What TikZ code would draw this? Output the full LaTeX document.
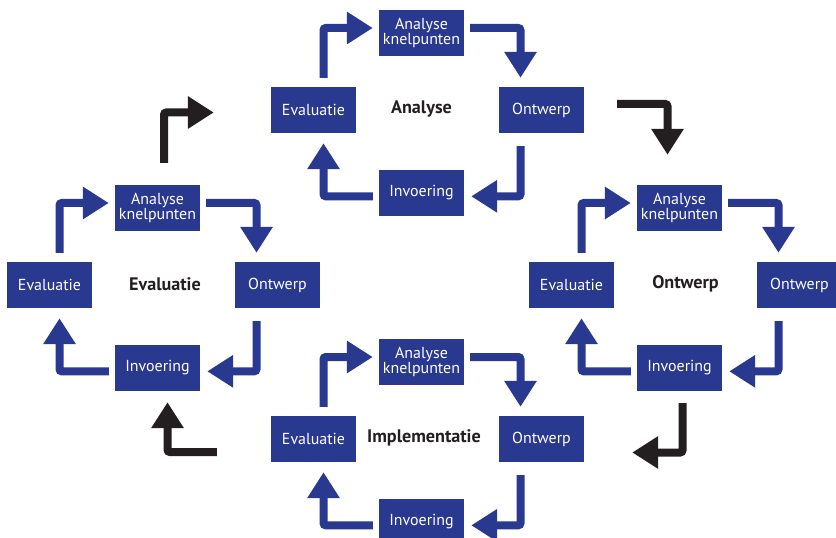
\documentclass[tikz,border=0pt]{standalone}
\usepackage{fontspec}
\setmainfont{PT Sans}
\usetikzlibrary{arrows.meta}

\definecolor{cycblue}{RGB}{41,57,143}
\definecolor{cycblack}{RGB}{35,31,32}

\begin{document}
\begin{tikzpicture}[x=0.03cm,y=-0.03cm,
        box/.style={fill=cycblue,text=white,minimum width=2.55cm,minimum height=1.38cm,inner sep=0pt,align=center,font=\fontsize{13.6}{13.4}\selectfont},
        phase/.style={text=cycblack,font=\bfseries\fontsize{15.5}{15.5}\selectfont},
        flow/.style={draw=cycblue,line width=0.24cm,rounded corners=2pt,-{Triangle[width=0.93cm,length=0.78cm]}},
        jump/.style={flow,draw=cycblack}]

    \useasboundingbox (0,0) rectangle (836,538);

    % four cycles: name / x of top box / y of middle row / label / label shift
    \foreach \c/\x/\y/\lab/\lx in {A/421.5/110/Analyse/0, E/157.5/285/Evaluatie/7.5, O/679.5/285/Ontwerp/6, I/421.5/439/Implementatie/2.5} {
        \node[box] (\c-ak) at (\x,\y-77) {Analyse\\knelpunten};
        \node[box] (\c-ev) at (\x-108,\y) {Evaluatie};
        \node[box] (\c-on) at (\x+120,\y) {Ontwerp};
        \node[box] (\c-in) at (\x,\y+83) {Invoering};
        \node[phase] (\c-lab) at (\x+\lx,\y-1) {\lab};

        \draw[flow,shorten <=2.7mm,shorten >=1.8mm] ([xshift=3mm]\c-ev.north) |- ([yshift=1.5mm]\c-ak.west);
        \draw[flow,shorten <=1.8mm,shorten >=2.7mm] ([yshift=1.5mm]\c-ak.east) -| ([xshift=-6.3mm]\c-on.north);
        \draw[flow,shorten <=3.9mm,shorten >=2.1mm] ([xshift=-6.3mm]\c-on.south) |- ([yshift=-1mm]\c-in.east);
        \draw[flow,shorten <=1.8mm,shorten >=3mm] ([yshift=-1mm]\c-in.west) -| ([xshift=3mm]\c-ev.south);
    }

    % from cycle to cycle
    \draw[jump,shorten <=6.6mm,shorten >=17.1mm] ([xshift=1.95mm]E-ak.north) |- ([yshift=-0.75mm]A-ev.west);
    \draw[jump,shorten <=9.9mm,shorten >=9mm] ([yshift=1.8mm]A-on.east) -| ([xshift=-3.6mm]O-ak.north);
    \draw[jump,shorten <=3.6mm,shorten >=14.4mm] ([xshift=0.9mm]O-in.south) |- ([yshift=-4.05mm]I-on.east);
    \draw[jump,shorten <=16.2mm,shorten >=3.3mm] ([yshift=-3.9mm]I-ev.west) -| ([xshift=3mm]E-in.south);
\end{tikzpicture}
\end{document}
